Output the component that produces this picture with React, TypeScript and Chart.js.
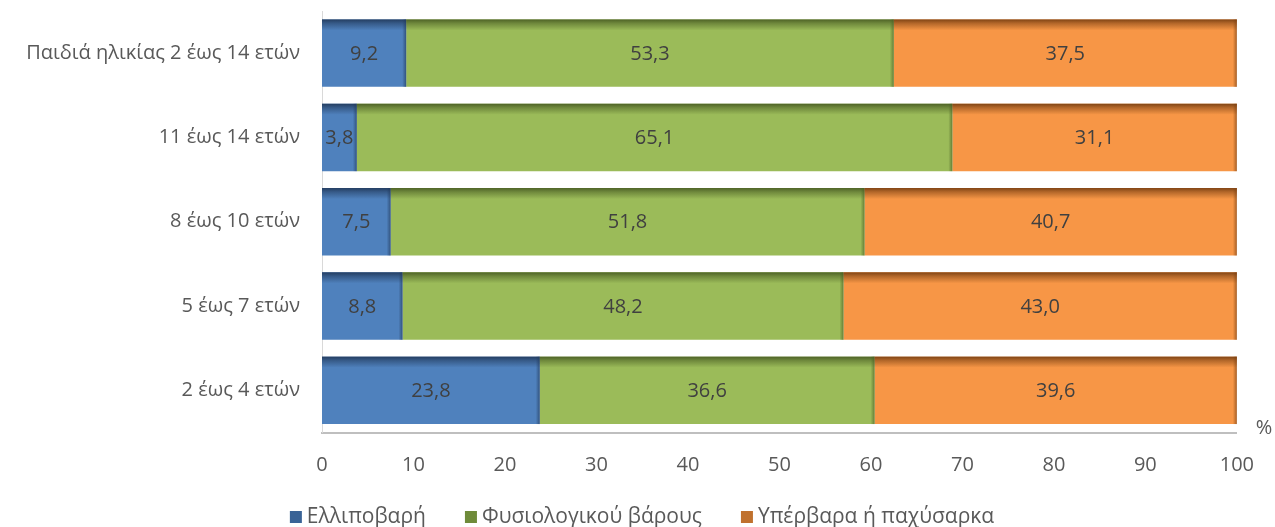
import React, { useEffect, useRef } from "react";
import { Chart, registerables } from "chart.js";

Chart.register(...registerables);

const categories = [
  "Παιδιά ηλικίας 2 έως 14 ετών",
  "11 έως 14 ετών",
  "8 έως 10 ετών",
  "5 έως 7 ετών",
  "2 έως 4 ετών",
];
const underweight = [9.2, 3.8, 7.5, 8.8, 23.8];
const normalWeight = [53.3, 65.1, 51.8, 48.2, 36.6];
const overweight = [37.5, 31.1, 40.7, 43.0, 39.6];
const seriesNames = ["Ελλιποβαρή", "Φυσιολογικού βάρους", "Υπέρβαρα ή παχύσαρκα"];
const xTicks = [0, 10, 20, 30, 40, 50, 60, 70, 80, 90, 100];

const baseColors = ["#4f81bd", "#9bbb59", "#f79646"];
const legendColors = ["#3a6396", "#6f8b3a", "#c0712e"];
const shadeColors = ["rgba(34,58,92,", "rgba(74,94,36,", "rgba(122,64,18,"];
const FONT = "'Open Sans', sans-serif";

const barPlugin = {
  id: "barDecor",
  afterDatasetsDraw(chart: any) {
    const ctx = chart.ctx;
    chart.data.datasets.forEach((ds: any, di: number) => {
      const meta = chart.getDatasetMeta(di);
      meta.data.forEach((el: any, i: number) => {
        const left = Math.min(el.x, el.base);
        const right = Math.max(el.x, el.base);
        const top = el.y - el.height / 2;
        const bottom = el.y + el.height / 2;
        const w = right - left;
        ctx.save();
        let g = ctx.createLinearGradient(0, top, 0, top + 11);
        g.addColorStop(0, shadeColors[di] + "0.95)");
        g.addColorStop(0.35, shadeColors[di] + "0.55)");
        g.addColorStop(1, shadeColors[di] + "0)");
        ctx.fillStyle = g;
        ctx.fillRect(left, top, w, 11);
        g = ctx.createLinearGradient(right - 4, 0, right, 0);
        g.addColorStop(0, shadeColors[di] + "0)");
        g.addColorStop(1, shadeColors[di] + "0.65)");
        ctx.fillStyle = g;
        ctx.fillRect(right - 4, top, 4, el.height);
        const v = ds.data[i] as number;
        ctx.fillStyle = "#404040";
        ctx.font = `20px ${FONT}`;
        ctx.textAlign = "center";
        ctx.textBaseline = "middle";
        ctx.fillText(v.toFixed(1).replace(".", ","), (left + right) / 2, (top + bottom) / 2 + 1);
        ctx.restore();
      });
    });
    const xs = chart.scales.x;
    ctx.save();
    ctx.fillStyle = "#595959";
    ctx.font = `20px ${FONT}`;
    ctx.textAlign = "left";
    ctx.textBaseline = "middle";
    ctx.fillText("%", xs.right + 19, xs.top - 4);
    ctx.font = `21px ${FONT}`;
    const box = 12;
    const gapText = 5;
    const gapItem = 39;
    const widths = seriesNames.map((n) => ctx.measureText(n).width);
    const total = widths.reduce((a, w) => a + box + gapText + w, 0) + gapItem * (seriesNames.length - 1);
    let x = 642 - total / 2;
    const cy = 517;
    seriesNames.forEach((n, i) => {
      ctx.fillStyle = legendColors[i];
      ctx.fillRect(x, cy - box / 2, box, box);
      ctx.fillStyle = "#595959";
      ctx.textBaseline = "middle";
      ctx.fillText(n, x + box + gapText, cy);
      x += box + gapText + widths[i] + gapItem;
    });
    ctx.restore();
  },
};

export default function App() {
  const ref = useRef<HTMLCanvasElement>(null);
  useEffect(() => {
    if (!ref.current) return;
    const data = [underweight, normalWeight, overweight];
    const chart = new Chart(ref.current, {
      type: "bar",
      data: {
        labels: categories,
        datasets: data.map((d, i) => ({
          label: seriesNames[i],
          data: d,
          backgroundColor: baseColors[i],
          borderWidth: 0,
          barPercentage: 0.8,
          categoryPercentage: 1,
        })),
      },
      options: {
        indexAxis: "y",
        animation: false,
        responsive: false,
        maintainAspectRatio: false,
        layout: { padding: { top: 11, right: 38, left: 0, bottom: 0 } },
        scales: {
          x: {
            stacked: true,
            min: 0,
            max: 100,
            afterBuildTicks: (s: any) => {
              s.ticks = xTicks.map((v) => ({ value: v }));
            },
            afterFit: (s: any) => {
              s.height = 94.5;
            },
            grid: { display: false, drawTicks: false },
            border: { display: true, color: "#bfbfbf", width: 2 },
            ticks: { color: "#595959", font: { size: 20, family: FONT }, padding: 21 },
          },
          y: {
            stacked: true,
            afterFit: (s: any) => {
              s.width = 322;
              s.paddingTop = 0;
              s.paddingBottom = 0;
            },
            grid: { display: false, drawTicks: false },
            border: { display: true, color: "#d9d9d9", width: 1 },
            ticks: { color: "#595959", font: { size: 20, family: FONT }, padding: 22 },
          },
        },
        plugins: {
          legend: { display: false },
          tooltip: { enabled: false },
        },
      },
      plugins: [barPlugin],
    } as any);
    return () => chart.destroy();
  }, []);
  return (
    <div style={{ position: "fixed", left: 0, top: 0, width: 1275, height: 527, background: "#fff" }}>
      <canvas ref={ref} width={1275} height={527} />
    </div>
  );
}
